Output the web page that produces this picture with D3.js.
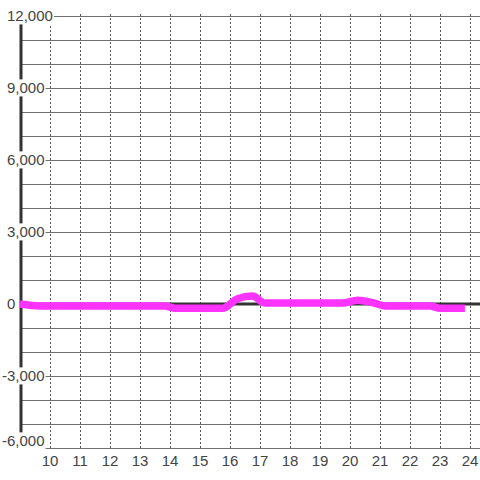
<!DOCTYPE html>
<html>
<head>
<meta charset="utf-8">
<script src="https://cdn.jsdelivr.net/npm/d3@7"></script>
<style>
  html, body { margin: 0; padding: 0; background: #fff; }
</style>
</head>
<body>
<div id="chart"></div>
<script>
// data (hour of day, value)
const hours  = [9, 9.67, 13.83, 14.17, 15.75, 16.25, 16.75, 17.17, 19.75, 20.25, 20.75, 21.17, 22.67, 23.0, 23.83];
const values = [0, -80, -80, -180, -180, 220, 330, 40, 40, 160, 60, -80, -80, -180, -180];
const xTicks = [10, 11, 12, 13, 14, 15, 16, 17, 18, 19, 20, 21, 22, 23, 24];
const yLabels = [12000, 9000, 6000, 3000, 0, -3000, -6000];
const yGrid = d3.range(-6000, 12001, 1000);

const width = 480, height = 480;
const font = "15px 'Liberation Sans', Arial, sans-serif";

const svg = d3.select("#chart")
    .append("svg")
    .attr("width", width)
    .attr("height", height)
    .style("font", font);

const x = d3.scaleLinear().domain([9, 24 + 1 / 3]).range([20, 480]);
const y = d3.scaleLinear().domain([-6000, 12000]).range([448, 16]);

// horizontal grid
svg.append("g")
    .selectAll("line")
    .data(yGrid)
    .enter()
    .append("line")
    .attr("x1", 20)
    .attr("x2", 480)
    .attr("y1", d => Math.round(y(d)) + 0.5)
    .attr("y2", d => Math.round(y(d)) + 0.5)
    .attr("stroke", "#707070")
    .attr("stroke-width", 1);

// vertical dashed grid
svg.append("g")
    .selectAll("line")
    .data(xTicks)
    .enter()
    .append("line")
    .attr("x1", d => Math.round(x(d)) + 0.5)
    .attr("x2", d => Math.round(x(d)) + 0.5)
    .attr("y1", 14)
    .attr("y2", 448)
    .attr("stroke", "#555")
    .attr("stroke-dasharray", "2,2")
    .attr("stroke-width", 1);

// zero line
svg.append("line")
    .attr("x1", 20)
    .attr("x2", 480)
    .attr("y1", y(0))
    .attr("y2", y(0))
    .attr("stroke", "#333")
    .attr("stroke-width", 3);

// y axis bar
svg.append("line")
    .attr("x1", 21)
    .attr("x2", 21)
    .attr("y1", 16)
    .attr("y2", 448)
    .attr("stroke", "#333")
    .attr("stroke-width", 3);

// series line
const line = d3.line()
    .x((d, i) => x(hours[i]))
    .y(d => y(d))
    .curve(d3.curveMonotoneX);

svg.append("path")
    .datum(values)
    .attr("d", line)
    .attr("fill", "none")
    .attr("stroke", "#ff33ff")
    .attr("stroke-width", 7.5)
    .attr("stroke-linejoin", "round");

// y labels with white boxes behind them
const yl = svg.append("g")
    .selectAll("g")
    .data(yLabels)
    .enter()
    .append("g");

yl.append("rect").attr("fill", "#fff");

yl.append("text")
    .attr("x", d => d < 0 ? 2 : 7)
    .attr("y", d => Math.min(y(d), 441))   // bottom label is pushed up a bit
    .attr("dy", "0.36em")
    .attr("fill", "#444")
    .text(d => d3.format(",")(d).replace("−", "-"));

yl.each(function () {
    const g = d3.select(this);
    const b = g.select("text").node().getBBox();
    g.select("rect")
        .attr("x", b.x - 1)
        .attr("y", b.y)
        .attr("width", b.width + 2)
        .attr("height", b.height);
});

// x labels
svg.append("g")
    .selectAll("text")
    .data(xTicks)
    .enter()
    .append("text")
    .attr("x", d => x(d))
    .attr("y", 461)
    .attr("dy", "0.36em")
    .attr("text-anchor", "middle")
    .attr("fill", "#444")
    .text(d => d);
</script>
</body>
</html>
